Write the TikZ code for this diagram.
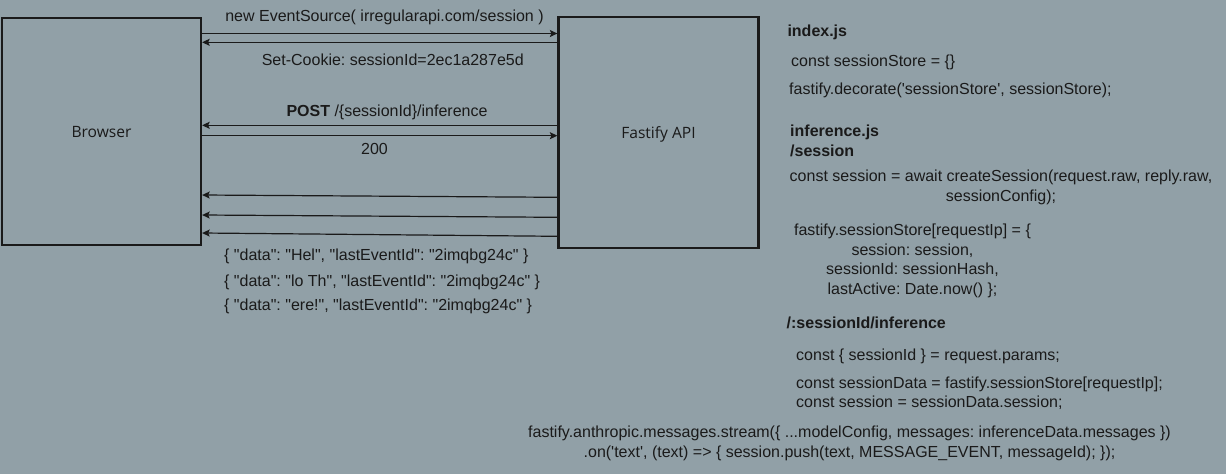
\documentclass[tikz,border=0pt]{standalone}
\usepackage{fontspec}
\setmainfont{Liberation Sans}[Ligatures=TeXOff]
\newfontfamily\boxfont{Open Sans}[Ligatures=TeXOff]
\usetikzlibrary{arrows.meta}
\definecolor{bg}{RGB}{145,160,167}
\definecolor{ink}{HTML}{1A1A1A}
\frenchspacing
\tikzset{
  box/.style={draw=ink, line width=2.3pt, fill=none, inner sep=0pt,
    font=\boxfont\fontsize{15.6}{18}\selectfont, text=ink,
    text height=11.5pt, text depth=0pt},
  msg/.style={draw=ink, line width=1.2pt,
    -{Stealth[length=7.5pt,width=7pt,inset=1.5pt]}},
  lbl/.style={inner sep=0pt, text=ink, font=\fontsize{16}{19.5}\selectfont},
  code/.style={lbl},
  codebold/.style={lbl, font=\bfseries\fontsize{16}{19.5}\selectfont},
}
\begin{document}
\begin{tikzpicture}[x=1pt,y=-1pt]
\fill[bg] (0,0) rectangle (1226,474);
\useasboundingbox (0,0) rectangle (1226,474);

% boxes
\node[box, minimum width=199pt, minimum height=227.5pt] (browser) at (101.5,131.5) {Browser};
\node[box, minimum width=200pt, minimum height=231pt] (fastify) at (658.5,132.8) {Fastify API};

% connectors
\draw[msg] (browser.east |- 0,33.5) -- (fastify.west |- 0,33.5);
\draw[msg] (fastify.west |- 0,42.3) -- (browser.east |- 0,42.3);
\draw[msg] (fastify.west |- 0,125.3) -- (browser.east |- 0,125.3);
\draw[msg] (browser.east |- 0,135.7) -- (fastify.west |- 0,135.7);
\draw[msg] (fastify.west |- 0,197.3) -- (browser.east |- 0,195);
\draw[msg] (fastify.west |- 0,217.3) -- (browser.east |- 0,215);
\draw[msg] (fastify.west |- 0,236.3) -- (browser.east |- 0,233);

% connector labels
\node[lbl, anchor=base] (l1) at (384.5,21) {new EventSource( irregularapi.com/session )};
\node[lbl, anchor=base] (l2) at (392.8,65) {Set-Cookie: sessionId=2ec1a287e5d};
\node[lbl, anchor=base] (l3) at (387,116) {\textbf{POST} /\{sessionId\}/inference};
\node[lbl, anchor=base] (l4) at (374.5,154) {200};
\node[lbl, anchor=base west] (d1) at (224,260) {\{ "data": "Hel", "lastEventId": "2imqbg24c" \}};
\node[lbl, anchor=base west] (d2) at (224,286.7) {\{ "data": "lo Th", "lastEventId": "2imqbg24c" \}};
\node[lbl, anchor=base west] (d3) at (224,310.7) {\{ "data": "ere!", "lastEventId": "2imqbg24c" \}};

% code notes
\node[codebold, anchor=base west] (idx) at (787.3,36.7) {index.js};
\node[code, anchor=base west] (c1) at (791,66.7) {const sessionStore = \{\}};
\node[code, anchor=base west] (c2) at (789,94.7) {fastify.decorate('sessionStore', sessionStore);};
\node[codebold, anchor=north west, align=left] (inf) at (790,123) {\strut inference.js\\/session};
\node[code, anchor=north, align=center] (c3) at (1001,168) {\strut const session = await createSession(request.raw, reply.raw,\\sessionConfig);};
\node[code, anchor=north, align=center] (c4) at (912.5,222) {\strut fastify.sessionStore[requestIp] = \{\\session: session,\\sessionId: sessionHash,\\lastActive: Date.now() \};};
\node[codebold, anchor=base west] (route) at (786.5,328) {/:sessionId/inference};
\node[code, anchor=base west] (c5) at (796,360) {const \{ sessionId \} = request.params;};
\node[code, anchor=north west, align=left] (c6) at (796,374.3) {\strut const sessionData = fastify.sessionStore[requestIp];\\const session = sessionData.session;};
\node[code, anchor=north, align=center] (c7) at (849.5,423.7) {\strut fastify.anthropic.messages.stream(\{ ...modelConfig, messages: inferenceData.messages \})\\.on('text', (text) => \{ session.push(text, MESSAGE\_EVENT, messageId); \});};
\end{tikzpicture}
\end{document}
